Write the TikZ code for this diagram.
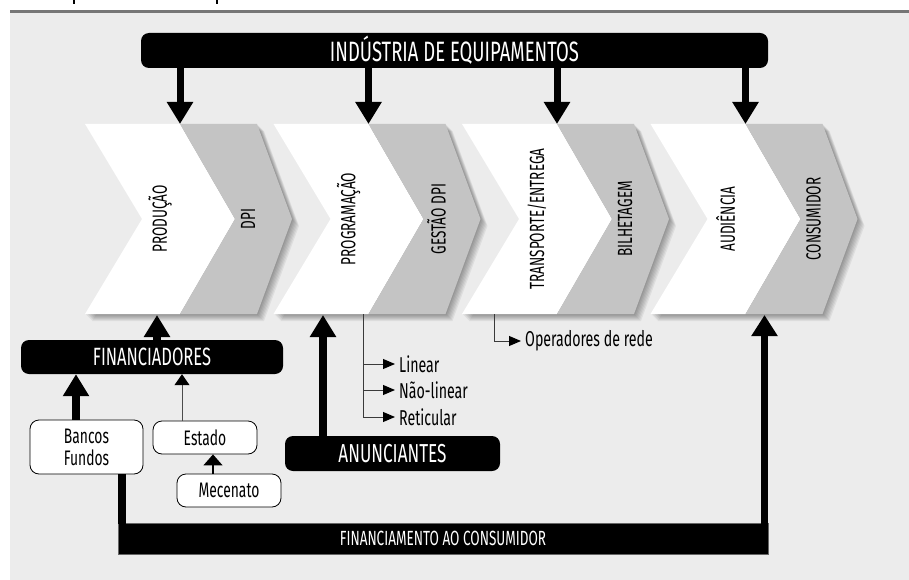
\documentclass[tikz,border=0pt]{standalone}
\usepackage{fontspec}
\setmainfont{Fira Sans}[FakeStretch=0.66]
\usetikzlibrary{arrows.meta}
\definecolor{bgc}{HTML}{ECECEC}
\definecolor{chev}{HTML}{C4C4C4}
\definecolor{rulec}{HTML}{767676}
\definecolor{slimc}{HTML}{3A3A3A}
\newcommand{\drawchev}[4]{%
  \foreach \o in {1,2,...,7}{%
    \begin{scope}[shift={(\o,\o)}]
      \fill[black, opacity=0.06] (#1,124) -- ({#1+172},124) -- ({#1+207},219) -- ({#1+172},314) -- (#1,314) -- ({#1+57},219) -- cycle;
    \end{scope}
  }
  \fill[white] (#1,124) -- ({#1+95},124) -- ({#1+150},219) -- ({#1+95},314) -- (#1,314) -- ({#1+57},219) -- cycle;
  \fill[chev] ({#1+95},124) -- ({#1+172},124) -- ({#1+207},219) -- ({#1+172},314) -- ({#1+95},314) -- ({#1+150},219) -- cycle;
  \node[chevlab] (w#2) at ({#1+75},219) {#3};
  \node[chevlab] (g#2) at ({#1+163},219) {#4};
  \coordinate (t#2) at ({#1+95},124);
}
\begin{document}
\begin{tikzpicture}[x=1pt,y=-1pt,
  bar/.style={fill=black, text=white, rounded corners=8pt, inner sep=0pt},
  box/.style={draw=black, line width=0.8pt, fill=white, rounded corners=9pt, inner sep=0pt, font=\fontsize{21}{22}\selectfont},
  chevlab/.style={rotate=90, font=\fontsize{20.5}{22}\selectfont, inner sep=0pt},
  bigarrow/.style={line width=7pt, -{Triangle[width=25pt,length=22pt]}},
  midarrow/.style={line width=8pt, -{Triangle[width=25pt,length=22pt]}},
  slimline/.style={draw=slimc, line width=1pt},
  smallhead/.style={-{Triangle[width=10pt,length=12pt,black]}},
  lab/.style={anchor=west, inner sep=4pt, font=\fontsize{21.5}{22}\selectfont}
  ]
\useasboundingbox (0,0) rectangle (909,580);
\fill[white] (0,0) rectangle (909,580);
\fill[bgc] (10,12) rectangle (909,580);
\draw[rulec, line width=3pt] (10,11.5) -- (909,11.5);
\draw[line width=1.5pt] (74,0) -- (74,4);
\draw[line width=1.5pt] (217,0) -- (217,4);

% chevrons
\drawchev{85}{1}{PRODUÇÃO}{DPI}
\drawchev{273.5}{2}{PROGRAMAÇÃO}{GESTÃO DPI}
\drawchev{462}{3}{TRANSPORTE/ENTREGA}{BILHETAGEM}
\drawchev{650.5}{4}{AUDIÊNCIA}{CONSUMIDOR}

% top bar
\node[bar, minimum width=627pt, minimum height=35pt, font=\fontsize{28}{30}\selectfont] (ind) at (454.5,50.5) {INDÚSTRIA DE EQUIPAMENTOS};
\foreach \i in {1,2,3,4} \draw[bigarrow] (ind.south -| t\i) -- (t\i);

% financiadores
\node[bar, minimum width=262pt, minimum height=34pt, font=\fontsize{25}{26}\selectfont] (fin) at (152,357) {FINANCIADORES};
\coordinate (pb1) at (157,315);
\draw[midarrow] (fin.north -| pb1) -- (pb1);

\node[box, minimum width=113pt, minimum height=54pt, align=center] (banc) at (86.5,447) {Bancos\\Fundos};
\node[box, minimum width=104pt, minimum height=33pt] (est) at (205,437.5) {Estado};
\node[box, minimum width=104pt, minimum height=33pt] (mec) at (229,490.5) {Mecenato};

\coordinate (xa) at (76,0);
\coordinate (xe) at (182,0);
\coordinate (xm) at (213,0);
\draw[midarrow] (banc.north -| xa) -- (fin.south -| xa);
\draw[draw=black!70, line width=1pt, -{Triangle[width=15pt,length=11pt,black]}] (est.north -| xe) -- (fin.south -| xe);
\draw[line width=1.2pt, -{Triangle[width=19pt,length=11pt]}] (mec.north -| xm) -- (est.south -| xm);

% anunciantes
\node[bar, minimum width=215pt, minimum height=35pt, font=\fontsize{26}{27}\selectfont] (anun) at (392.5,453.5) {ANUNCIANTES};
\coordinate (pb2) at (323,315);
\draw[midarrow] (anun.north -| pb2) -- (pb2);

% financiamento ao consumidor
\node[fill=black, draw=black!60, line width=0.6pt, text=white, minimum width=650pt, minimum height=31pt, inner sep=0pt, font=\fontsize{20.5}{22}\selectfont] (fc) at (443,538.5) {FINANCIAMENTO AO CONSUMIDOR};
\coordinate (xb) at (122,0);
\coordinate (pb4) at (764.5,315);
\draw[line width=8pt, shorten >=-1pt] (banc.south -| xb) -- (fc.north -| xb);
\draw[line width=7pt, shorten <=-1pt, -{Triangle[width=25pt,length=21pt]}] (fc.north -| pb4) -- (pb4);

% distribution branches
\coordinate (pg) at (363,314);
\node[lab] (lin) at (395,364) {Linear};
\node[lab] (nlin) at (395,390) {Não-linear};
\node[lab] (ret) at (395,417) {Reticular};
\foreach \n in {lin,nlin,ret} \draw[slimline, smallhead] (pg) |- (\n.west);

\coordinate (po) at (494,314);
\node[lab] (oper) at (521,341) {Operadores de rede};
\draw[slimline, smallhead] (po) |- (oper.west);
\end{tikzpicture}
\end{document}
